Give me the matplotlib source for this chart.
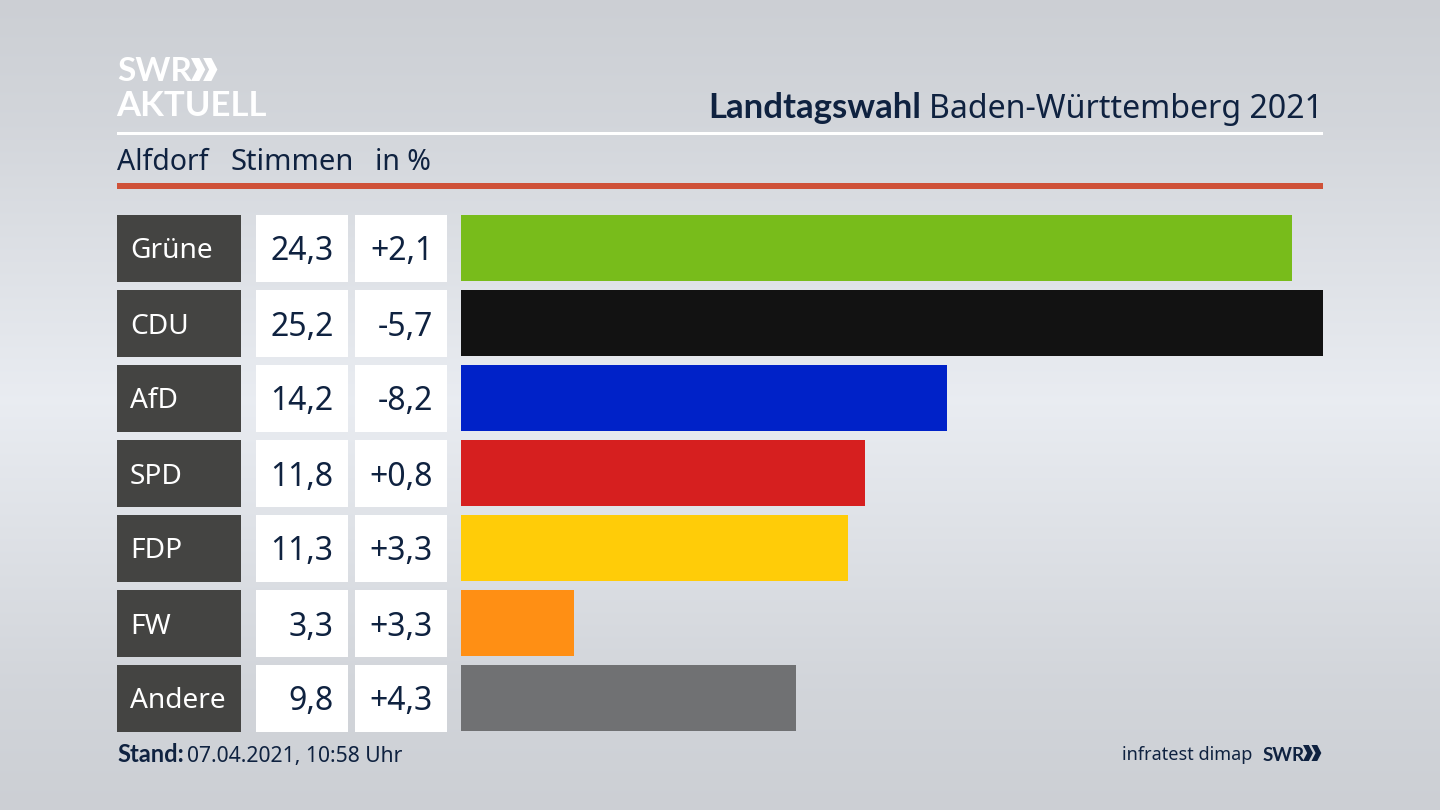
import numpy as np
import matplotlib
matplotlib.use("Agg")
import matplotlib.pyplot as plt
from matplotlib.patches import Rectangle, Polygon

plt.rcParams["font.family"] = ["Noto Sans", "DejaVu Sans"]
BOLD = ["Lato", "Roboto", "DejaVu Sans"]

parties = ["Grüne", "CDU", "AfD", "SPD", "FDP", "FW", "Andere"]
votes = [24.3, 25.2, 14.2, 11.8, 11.3, 3.3, 9.8]
votes_labels = ["24,3", "25,2", "14,2", "11,8", "11,3", "3,3", "9,8"]
diff_labels = ["+2,1", "-5,7", "-8,2", "+0,8", "+3,3", "+3,3", "+4,3"]
bar_colors = ["#78bc1b", "#121212", "#0022c8", "#d61f1f", "#ffcc08", "#ff8f14", "#707173"]

NAVY = "#0f2240"
W, H = 1440, 810

fig = plt.figure(figsize=(W / 100, H / 100), dpi=100)

# background and everything that is not a bar, in pixel coordinates
bg = fig.add_axes([0, 0, 1, 1])
bg.set_xlim(0, W)
bg.set_ylim(H, 0)
bg.axis("off")

stops_y = [0, 120, 400, 680, 810]
stops_v = [0.800, 0.825, 0.915, 0.825, 0.800]
grad = np.interp(np.arange(H), stops_y, stops_v)
rgb = np.stack([grad, grad + 0.012, grad + 0.032], axis=1)[:, None, :]
bg.imshow(np.clip(rgb, 0, 1), extent=[0, W, H, 0], aspect="auto", zorder=0)

# header
bg.add_patch(Rectangle((117, 132), 1206, 3, color="white", lw=0))
bg.add_patch(Rectangle((117, 183), 1206, 6, color="#cf5138", lw=0))
bg.text(117, 81, "SWR", color="white", fontsize=24, family=BOLD, fontweight="bold", va="baseline")
bg.text(116, 116, "AKTUELL", color="white", fontsize=25, family=BOLD, fontweight="bold", va="baseline")


def chevrons(x, y, h, color):
    # double arrow of the SWR logo
    w = h * 0.62
    t = h * 0.36
    for dx in (0, w * 0.85):
        bg.add_patch(Polygon([
            (x + dx, y), (x + dx + t, y), (x + dx + w, y + h / 2),
            (x + dx + t, y + h), (x + dx, y + h), (x + dx + w - t, y + h / 2),
        ], color=color, lw=0))


chevrons(191, 58, 23, "white")

bg.text(1323, 118, "Baden-Württemberg 2021", color=NAVY, fontsize=23.1, ha="right", va="baseline")
bg.text(921, 118, "Landtagswahl", color=NAVY, fontsize=25, family=BOLD, fontweight="bold",
        ha="right", va="baseline")

bg.text(117, 170, "Alfdorf", color=NAVY, fontsize=20.5, va="baseline")
bg.text(231, 170, "Stimmen", color=NAVY, fontsize=21, va="baseline")
bg.text(375, 170, "in %", color=NAVY, fontsize=20.5, va="baseline")

# table cells left of the bars
for i, party in enumerate(parties):
    top = 215 + 75 * i
    mid = top + 33
    bg.add_patch(Rectangle((117, top), 124, 66.5, color="#444442", lw=0))
    bg.add_patch(Rectangle((256, top), 92, 66.5, color="white", lw=0))
    bg.add_patch(Rectangle((355, top), 92, 66.5, color="white", lw=0))
    bg.text(130, mid, party, color="white", fontsize=20.2, va="center_baseline")
    bg.text(333.5, mid, votes_labels[i], color=NAVY, fontsize=23, ha="right", va="center_baseline")
    bg.text(433, mid, diff_labels[i], color=NAVY, fontsize=23, ha="right", va="center_baseline")

# footer
bg.text(117, 762, "Stand:", color=NAVY, fontsize=17, family=BOLD, fontweight="bold", va="baseline")
bg.text(187, 762, "07.04.2021, 10:58 Uhr", color=NAVY, fontsize=15.2, va="baseline")
bg.text(1252, 760, "infratest dimap", color=NAVY, fontsize=13, ha="right", va="baseline")
bg.text(1263, 761, "SWR", color=NAVY, fontsize=13.5, family=BOLD, fontweight="bold", va="baseline")
chevrons(1303, 745, 16, NAVY)

# bars
ax = fig.add_axes([461 / W, 1 - 731 / H, 862 / W, 516 / H])
ax.patch.set_alpha(0)
ax.barh(range(len(parties)), votes, height=66.5 / 75, color=bar_colors)
ax.set_xlim(0, max(votes))
ax.set_ylim(6 + 33.25 / 75, -33.25 / 75)
ax.axis("off")

fig.savefig("out.png", dpi=100)
